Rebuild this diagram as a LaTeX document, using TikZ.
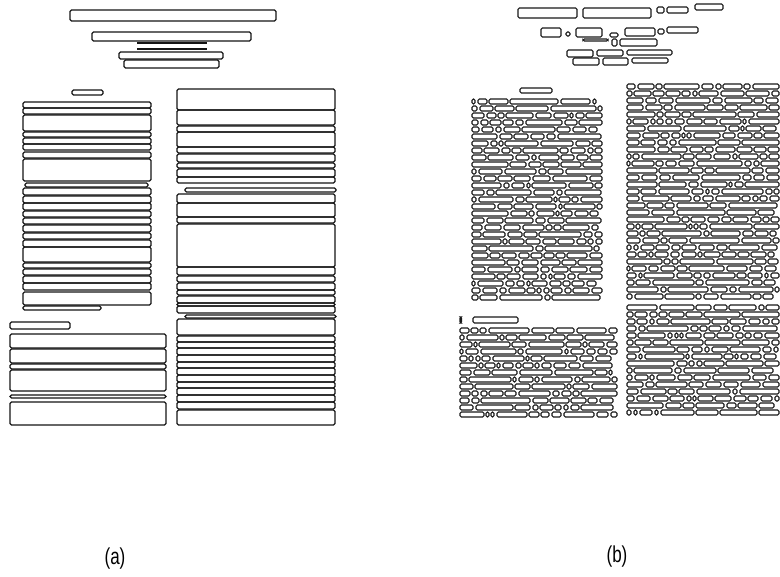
\documentclass[tikz,border=0pt]{standalone}
\usepackage{fontspec}
\newfontfamily\labfont{Liberation Sans}
\tikzset{
  linebox/.style={draw=black!92, line width=1.2pt, rounded corners=1.5pt},
  thinrule/.style={draw=black!92, line width=1.2pt},
  wordbox/.style={draw=black!90, line width=1.1pt, rounded corners=1.3pt},
  panellabel/.style={font=\labfont\fontsize{20}{24}\selectfont, inner sep=0pt}
}
\newcommand\wordrow[3]{% x1, x2, y
  \xdef\wbX{#1}%
  \foreach \k in {1,...,60}{%
    \ifdim\wbX pt<\dimexpr#2pt-3pt\relax
      \pgfmathsetmacro\wbW{random(3,16)+(random(1,3)==1)*random(8,34)}%
      \pgfmathsetmacro\wbE{min(\wbX+\wbW,#2)}%
      \draw[wordbox] (\wbX,#3) rectangle (\wbE,#3+5);
      \pgfmathsetmacro\wbN{\wbE+random(2,3)}%
      \xdef\wbX{\wbN}%
    \fi
  }%
}
\newcommand\wordblock[4]{% x1, x2, ystart, yend
  \pgfmathtruncatemacro\wbS{#3+7}%
  \foreach \yy in {#3,\wbS,...,#4}{\wordrow{#1}{#2}{\yy}}%
}
\begin{document}
\begin{tikzpicture}[x=1pt,y=-1pt]
\useasboundingbox (0,0) rectangle (780,577);
\pgfmathsetseed{4242}
% ---------------- panel (a) ----------------
% title area
\draw[linebox] (70,10) rectangle (276,21);
\draw[linebox] (92,32) rectangle (251,41);
\coordinate (t1a) at (137,43); \coordinate (t1b) at (207,43);
\coordinate (t2a) at (137,49); \coordinate (t2b) at (207,49);
\draw[thinrule] (t1a) -- (t1b);
\draw[thinrule] (t2a) -- (t2b);
\draw[linebox] (119,52) rectangle (223,59);
\draw[linebox] (124,60) rectangle (219,68);
\draw[linebox] (72,90) rectangle (103,95);
% left column
\foreach \ya/\yb in {102/108,108/114,115/131,132/137,138/144,144/150,152/158,159/181,
  188/195,196/203,203/210,211/217,218/224,225/232,233/239,240/247,247/262,263/268,
  269/275,276/283,283/290,292/305}
  {\draw[linebox] (23,\ya) rectangle (151,\yb);}
\draw[linebox] (25,183) rectangle (148,187);
\draw[linebox] (23,306) rectangle (101,310);
% bottom-left block
\draw[linebox] (10,322) rectangle (70,329);
\foreach \ya/\yb in {334/348,349/363,364/369,370/391,395/398,402/425}
  {\draw[linebox] (10,\ya) rectangle (166,\yb);}
% right column
\foreach \ya/\yb in {89/110,110/125,126/132,132/147,147/153,154/162,163/168,169/177,177/183,
  194/203,203/217,217/223,224/267,267/275,276/282,283/290,290/295,296/303,303/306,306/313,
  319/335,336/342,342/348,348/355,355/362,362/368,368/375,375/382,382/388,388/395,395/402,
  402/409,410/425}
  {\draw[linebox] (177,\ya) rectangle (335,\yb);}
\draw[linebox] (185,188) rectangle (336,192);
\draw[linebox] (185,315) rectangle (336,318);
% ---------------- panel (b) ----------------
% title words
\foreach \xa/\xb/\ya/\yb in {518/577/8/18,583/651/8/18,657/664/7/13,667/688/7/13,695/723/4/10,
  541/561/28/37,566/570/32/36,576/602/28/37,610/618/33/37,625/655/28/36,658/664/29/34,667/698/27/33,
  583/608/39/41,612/617/39/46,620/657/39/46,
  567/593/50/57,597/623/50/56,627/672/50/55,
  573/599/58/65,603/628/58/65,632/668/58/63,
  520/552/88/93,473/518/317/323}
  {\draw[wordbox] (\xa,\ya) rectangle (\xb,\yb);}
\draw[wordbox] (460,317) rectangle (461.5,323);
% text blocks of word boxes
\wordblock{472}{602}{99}{299}
\wordblock{460}{617}{328}{412}
\wordblock{627}{779}{84}{175}
\wordblock{627}{779}{182}{298}
\wordblock{627}{779}{305}{412}
% ---------------- labels ----------------
\node[panellabel] (la) at (115,559) {\scalebox{0.85}[1.15]{(a)}};
\node[panellabel] (lb) at (617,557) {\scalebox{0.85}[1.15]{(b)}};
\end{tikzpicture}
\end{document}
